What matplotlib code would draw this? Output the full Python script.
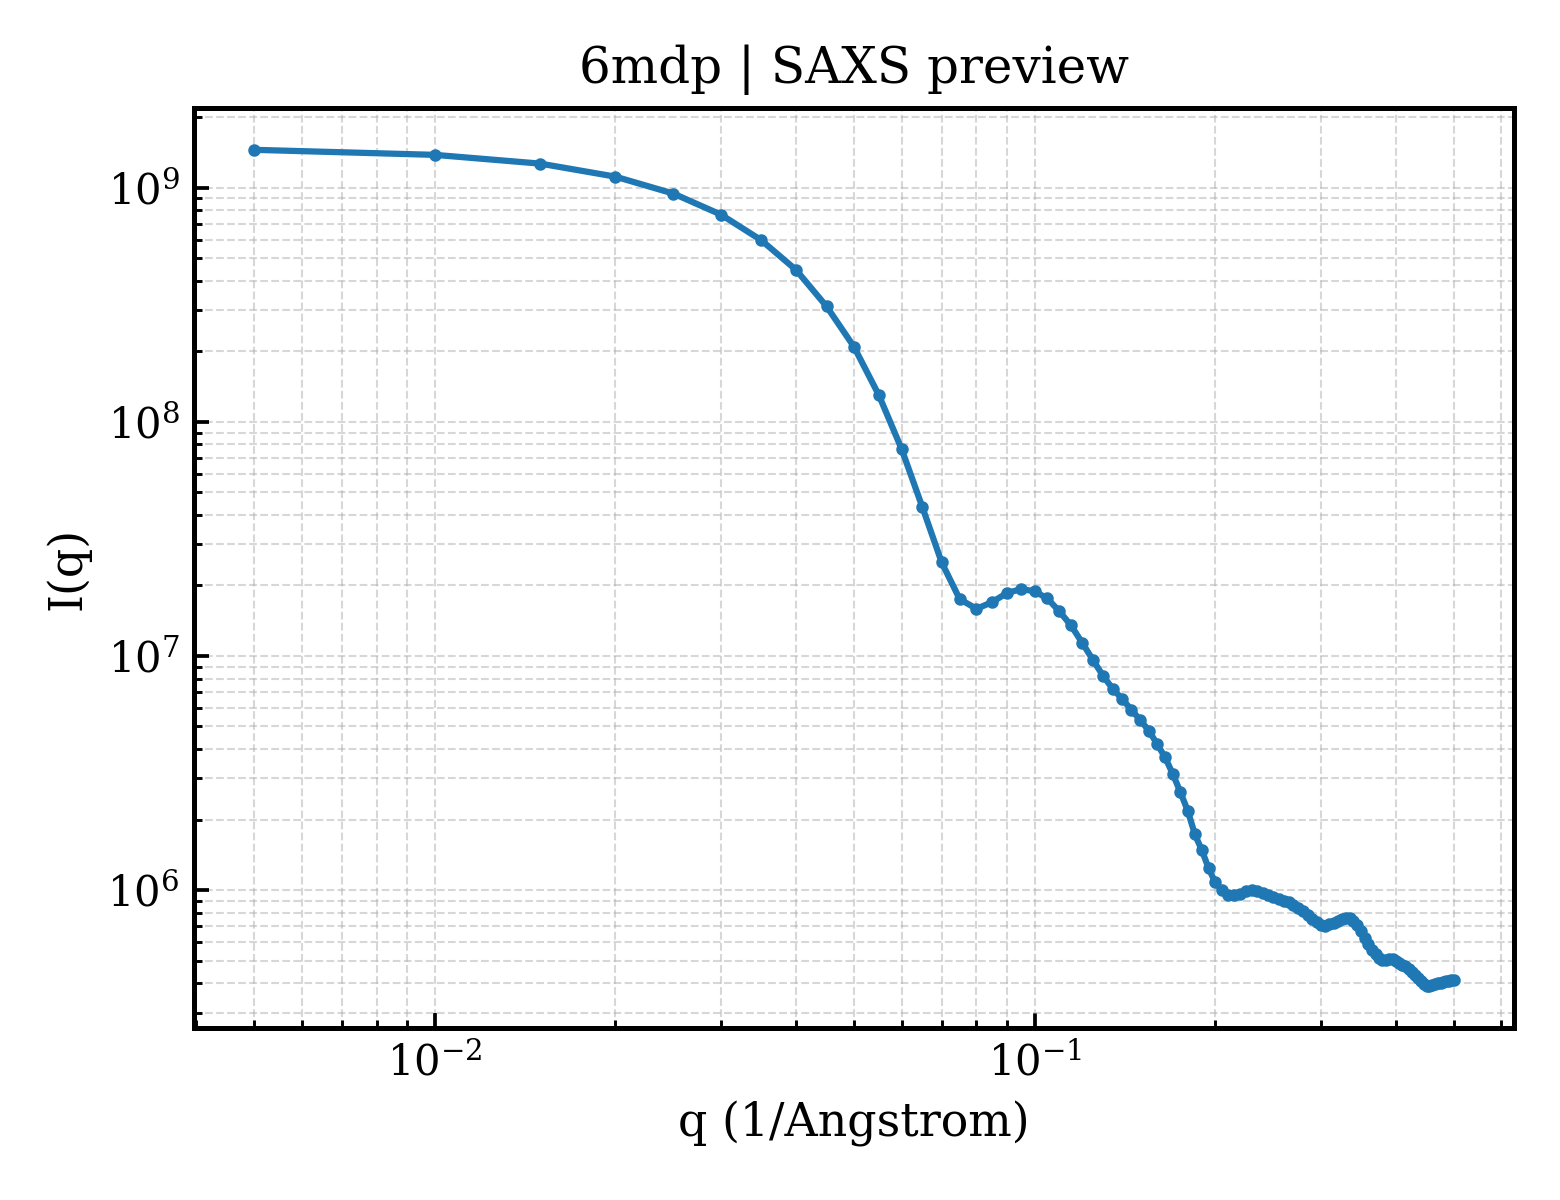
import matplotlib
matplotlib.use("Agg")
import matplotlib.pyplot as plt

plt.rcParams['font.family'] = ['DejaVu Serif']
plt.rcParams['mathtext.fontset'] = 'dejavuserif'

q = [0.005, 0.01, 0.015, 0.02, 0.025, 0.03, 0.035, 0.04, 0.045, 0.05,
     0.055, 0.06, 0.065, 0.07, 0.075, 0.08, 0.085, 0.09, 0.095, 0.1,
     0.105, 0.11, 0.115, 0.12, 0.125, 0.13, 0.135, 0.14, 0.145, 0.15,
     0.155, 0.16, 0.165, 0.17, 0.175, 0.18, 0.185, 0.19, 0.195, 0.2,
     0.205, 0.21, 0.215, 0.22, 0.225, 0.23, 0.235, 0.24, 0.245, 0.25,
     0.255, 0.26, 0.265, 0.27, 0.275, 0.28, 0.285, 0.29, 0.295, 0.3,
     0.305, 0.31, 0.315, 0.32, 0.325, 0.33, 0.335, 0.34, 0.345, 0.35,
     0.355, 0.36, 0.365, 0.37, 0.375, 0.38, 0.385, 0.39, 0.395, 0.4,
     0.405, 0.41, 0.415, 0.42, 0.425, 0.43, 0.435, 0.44, 0.445, 0.45,
     0.455, 0.46, 0.465, 0.47, 0.475, 0.48, 0.485, 0.49, 0.495, 0.5]

intensity = [1.45e9, 1.38e9, 1.266e9, 1.114e9, 9.43e8, 7.67e8, 5.97e8, 4.46e8, 3.11e8, 2.09e8,
             1.30e8, 7.67e7, 4.32e7, 2.51e7, 1.75e7, 1.59e7, 1.70e7, 1.86e7, 1.93e7, 1.89e7,
             1.76e7, 1.55e7, 1.35e7, 1.14e7, 9.64e6, 8.24e6, 7.23e6, 6.55e6, 5.88e6, 5.33e6,
             4.80e6, 4.21e6, 3.69e6, 3.13e6, 2.62e6, 2.18e6, 1.73e6, 1.48e6, 1.24e6, 1.08e6,
             1.00e6, 9.52e5, 9.52e5, 9.66e5, 9.90e5, 1.00e6, 9.90e5, 9.76e5, 9.52e5, 9.34e5,
             9.20e5, 9.02e5, 8.86e5, 8.63e5, 8.38e5, 8.13e5, 7.82e5, 7.52e5, 7.30e5, 7.09e5,
             7.05e5, 7.15e5, 7.26e5, 7.37e5, 7.52e5, 7.63e5, 7.59e5, 7.37e5, 7.09e5, 6.68e5,
             6.23e5, 5.88e5, 5.54e5, 5.33e5, 5.12e5, 5.05e5, 5.05e5, 5.07e5, 5.07e5, 4.99e5,
             4.90e5, 4.80e5, 4.73e5, 4.60e5, 4.46e5, 4.33e5, 4.21e5, 4.08e5, 3.97e5, 3.91e5,
             3.89e5, 3.93e5, 3.97e5, 4.01e5, 4.03e5, 4.05e5, 4.08e5, 4.10e5, 4.12e5, 4.12e5]

title = "6mdp | SAXS preview"
xlabel = "q (1/Angstrom)"
ylabel = "I(q)"

fig, ax = plt.subplots(figsize=(5.2, 4.0), dpi=300)
fig.subplots_adjust(left=0.1244, right=0.9705, top=0.91, bottom=0.1433)

ax.plot(q, intensity, color='#1f77b4', lw=1.5, marker='o', markersize=2)
ax.set_xscale('log')
ax.set_yscale('log')

ax.grid(True, which='both', ls='--', lw=0.5, color='#b0b0b0', alpha=0.5)
ax.tick_params(which='both', direction='in')
ax.tick_params(which='major', length=3.5, width=0.9, labelsize=10)
ax.tick_params(which='minor', length=2, width=0.7)
for s in ax.spines.values():
    s.set_linewidth(1.2)

ax.set_title(title, fontsize=12)
ax.set_xlabel(xlabel, fontsize=11)
ax.set_ylabel(ylabel, fontsize=11)

fig.savefig("out.png", dpi=300)
